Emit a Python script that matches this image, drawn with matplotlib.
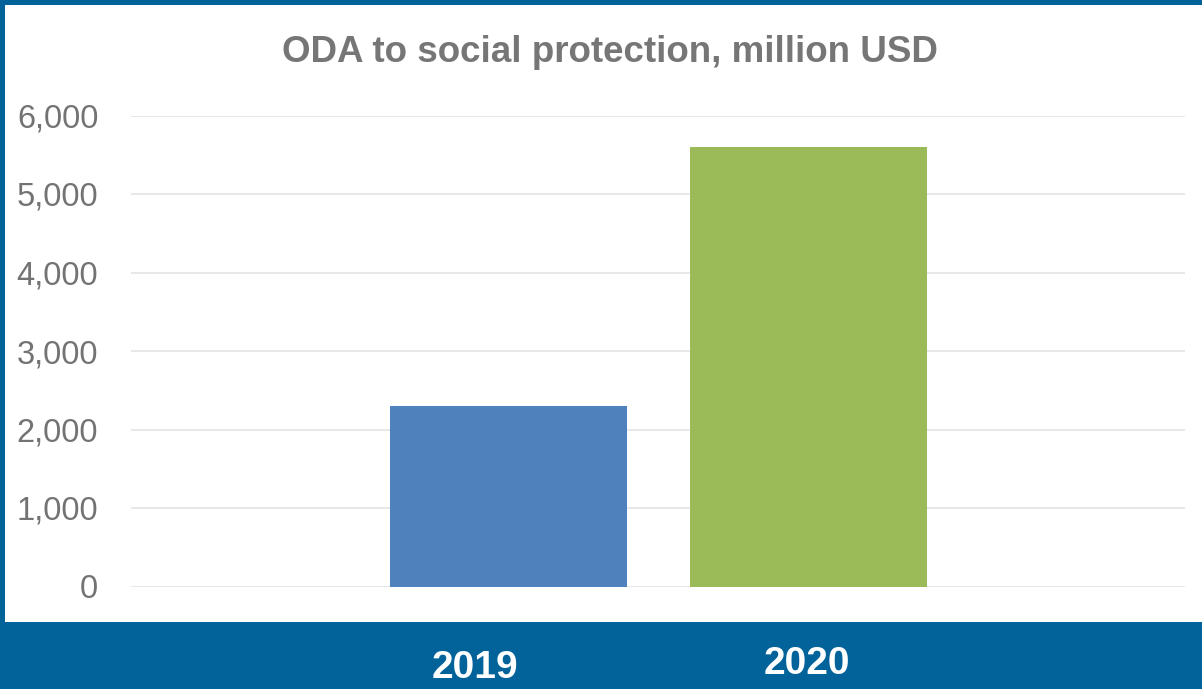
import matplotlib
matplotlib.use("Agg")
import matplotlib.pyplot as plt
from matplotlib.patches import Rectangle
from matplotlib.transforms import ScaledTranslation

years = ["2019", "2020"]
values = [2300, 5600]
bar_colors = ["#4F81BD", "#9BBB59"]
yticks = [0, 1000, 2000, 3000, 4000, 5000, 6000]
ytick_labels = ["0", "1,000", "2,000", "3,000", "4,000", "5,000", "6,000"]
title = "ODA to social protection, million USD"

FONT = ["Liberation Sans", "DejaVu Sans"]
plt.rcParams["font.family"] = FONT

W, H = 1202, 689
fig = plt.figure(figsize=(W / 100, H / 100), dpi=100)
fig.patch.set_facecolor("white")

band = "#02629A"
# bottom band, top border, left border
for (x0, y0, w, h) in [(0, 0, 1, (H - 622) / H),
                       (0, (H - 5) / H, 1, 5 / H),
                       (0, 0, 4.5 / W, 1)]:
    fig.patches.append(Rectangle((x0, y0), w, h, transform=fig.transFigure,
                                 facecolor=band, edgecolor="none", zorder=-10))

ax = fig.add_axes([131 / W, (H - 586.5) / H, 1054 / W, (586.5 - 115.5) / H])
ax.set_facecolor("none")
ax.set_zorder(1)
x = list(range(len(years)))
ax.bar(x, values, width=0.79, color=bar_colors, zorder=3)
ax.set_xlim(-1.258, 2.255)
ax.set_ylim(0, 6000)
ax.set_yticks(yticks)
ax.set_yticklabels(ytick_labels)
ax.grid(axis="y", color="#E4E4E4", linewidth=1.2, zorder=0)
ax.set_axisbelow(True)
for s in ax.spines.values():
    s.set_visible(False)
ax.tick_params(axis="y", length=0, pad=23.5, labelsize=23.5, labelcolor="#737373")
ax.tick_params(axis="x", length=0, pad=0, labelsize=28, labelcolor="white")
ax.set_xticks(x)
ax.set_xticklabels(years, fontweight="bold")
offsets = [(-33.5, -82), (-1.5, -78)]
for lab, (dx, dy) in zip(ax.get_xticklabels(), offsets):
    lab.set_verticalalignment("center")
    lab.set_clip_on(False)
    lab.set_transform(lab.get_transform() + ScaledTranslation(dx / 100, dy / 100, fig.dpi_scale_trans))

fig.text(610 / W, (H - 52) / H, title, ha="center", va="center",
         fontsize=26.5, fontweight="bold", color="#767676")

fig.savefig("out.png", dpi=100, facecolor=fig.get_facecolor())
